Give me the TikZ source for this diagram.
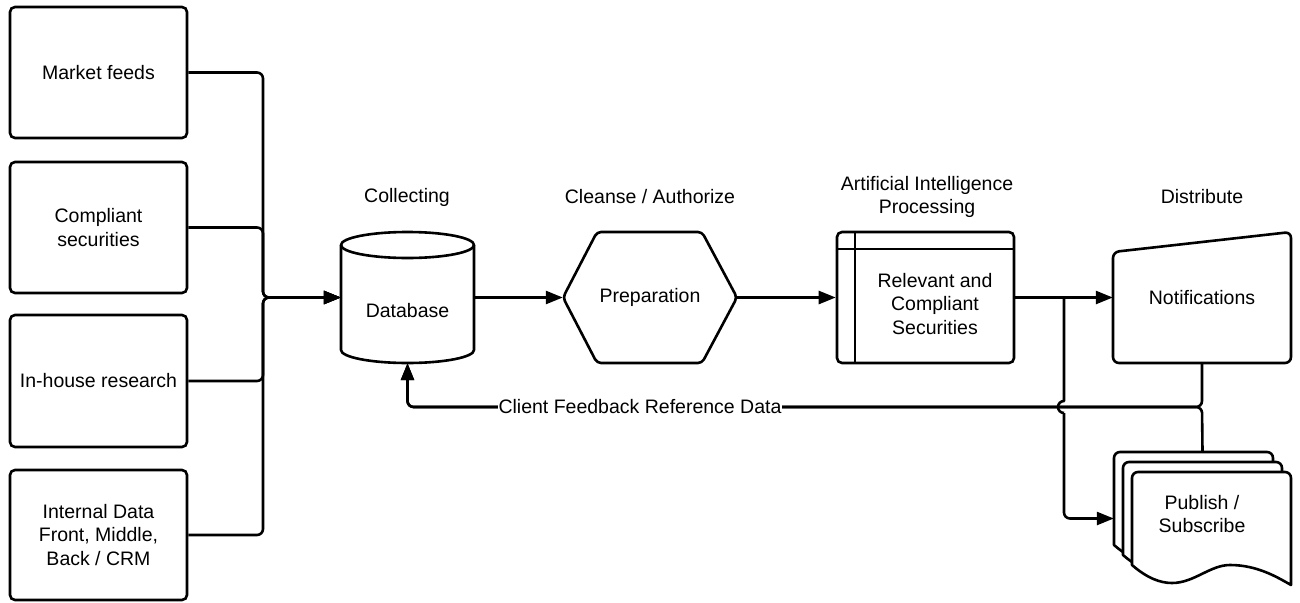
\documentclass[tikz,border=0pt]{standalone}
\usepackage{fontspec}
\setmainfont{Liberation Sans}
\usetikzlibrary{arrows.meta}
\tikzset{
  ln/.style={line width=2.6pt, line join=round},
  arr/.style={ln, -{Triangle[length=17pt,width=13pt]}},
  srcbox/.style={draw, line width=2.6pt, rounded corners=5pt, minimum width=177pt, minimum height=131pt, align=center, inner sep=0pt},
  txt/.style={align=center, inner sep=0pt},
  page/.style={ln, fill=white},
}
\newcommand{\docpage}[2]{%
  \filldraw[page] (#1,#2+93) [rounded corners=6pt]-- (#1,#2) -- (#1+159,#2) -- (#1+159,#2+60) [sharp corners]-- (#1+159,#2+113)
    .. controls (#1+145,#2+105) and (#1+125,#2+93) .. (#1+98,#2+93)
    .. controls (#1+78,#2+93) and (#1+62,#2+111) .. (#1+40,#2+111)
    .. controls (#1+28,#2+111) and (#1+15,#2+106) .. (#1,#2+93) -- cycle;}
\begin{document}
\begin{tikzpicture}[x=1pt,y=-1pt,font=\fontsize{19.5}{23.5}\selectfont]
\useasboundingbox (0,0) rectangle (1300,602);
\fill[white] (0,0) rectangle (1300,602);

% source boxes
\node[srcbox] (b1) at (98.5,72.5) {Market feeds};
\node[srcbox] (b2) at (98.5,227.5) {Compliant\\securities};
\node[srcbox, minimum height=132pt] (b3) at (98.5,381) {In-house research};
\node[srcbox, minimum height=130pt] (b4) at (98.5,535) {Internal Data\\Front, Middle,\\Back / CRM};

% database (cylinder)
\node[inner sep=0pt, minimum width=133pt, minimum height=131pt] (db) at (407.5,297.5) {};
\draw[ln, fill=white] (341,245) -- (341,350) arc[start angle=180, end angle=360, x radius=66.5pt, y radius=13pt] -- (474,245);
\draw[ln] (407.5,245) ellipse [x radius=66.5pt, y radius=13pt];
\node[txt] (dbt) at (407.5,311) {Database};

% preparation (hexagon)
\node[inner sep=0pt, minimum width=174pt, minimum height=131pt] (prep) at (650,297.5) {Preparation};
\draw[ln, rounded corners=4pt] (597,232) -- (702,232) -- (737,297.5) -- (702,363) -- (597,363) -- (563,297.5) -- cycle;

% AI box
\node[srcbox] (ai) at (925.5,297.5) {};
\draw[ln] (855,232) -- (855,363);
\draw[ln] (837,249) -- (1014,249);
\node[txt] (ait) at (935,304) {Relevant and\\Compliant\\Securities};

% notifications (manual input)
\node[inner sep=0pt, minimum width=178pt, minimum height=131pt] (notif) at (1202,297.5) {Notifications};
\draw[ln, rounded corners=6pt] (1113,300) -- (1113,252) -- (1291,232) -- (1291,363) -- (1113,363) -- cycle;

% publish / subscribe (multiple documents)
\node[inner sep=0pt, minimum width=177pt, minimum height=133pt] (pub) at (1202.5,518.5) {};
\docpage{1114}{452}
\docpage{1123}{462}
\docpage{1132}{472}
\node[txt] (pubt) at (1202,514) {Publish /\\Subscribe};

% titles
\node[txt] (t1) at (407,197) {Collecting};
\node[txt] (t2) at (650,197) {Cleanse / Authorize};
\node[txt] (t3) at (927,197) {Artificial Intelligence\\Processing};
\node[txt] (t4) at (1202,197) {Distribute};

% connectors
\coordinate (bus) at (263,297.5);
\foreach \b in {b1,b2,b3,b4}{
  \draw[arr, rounded corners=6pt] (\b.east) -| (bus) -- (db.west);
}
\draw[arr] (db.east) -- (prep.west);
\draw[arr] (prep.east) -- (ai.west);
\draw[arr] (ai.east) -- (notif.west);

\coordinate (split) at (1064,297.5);
\coordinate (hopA) at (1064,401);
\coordinate (hopB) at (1064,413);
\draw[ln] (split) -- (hopA) arc[start angle=90, end angle=270, radius=6pt];
\draw[arr, rounded corners=6pt] (hopB) |- (pub.west);

\coordinate (fb) at (1202,407);
\draw[arr, rounded corners=6pt] (notif.south) -- (fb) -| (db.south);
\draw[arr, rounded corners=6pt] (pub.north) -- (fb) -| (db.south);
\node[fill=white, inner xsep=1pt, inner ysep=0pt] (fbl) at (640,407) {Client Feedback Reference Data};
\end{tikzpicture}
\end{document}
